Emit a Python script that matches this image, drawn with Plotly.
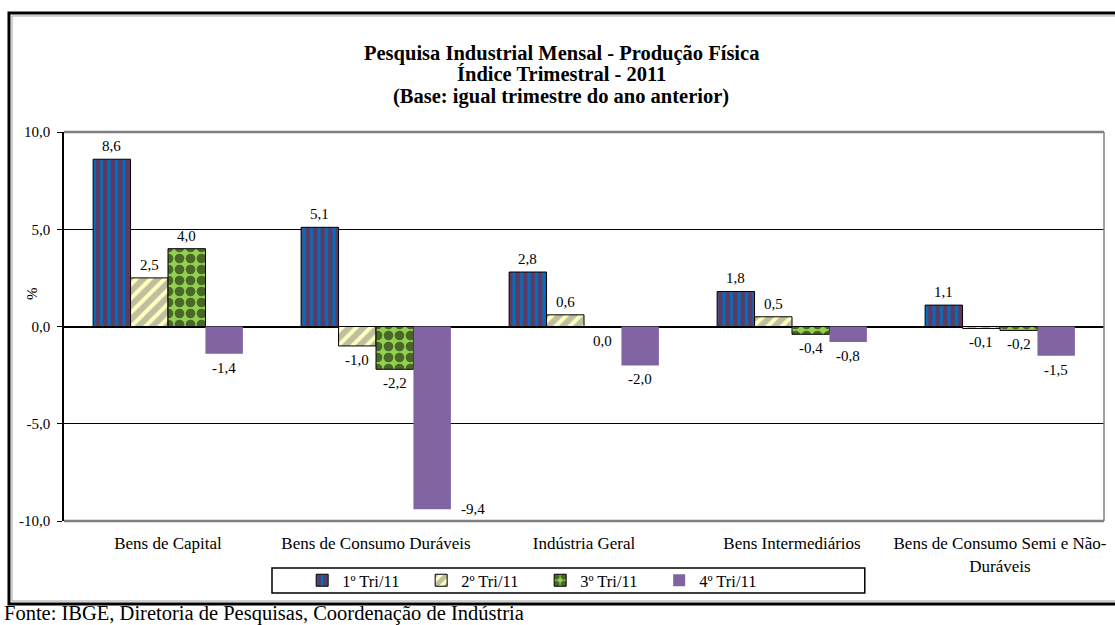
import plotly.graph_objects as go

categories = ["Bens de Capital", "Bens de Consumo Duráveis", "Indústria Geral",
              "Bens Intermediários", "Bens de Consumo Semi e Não-<br>Duráveis"]
series_names = ["1º Tri/11", "2º Tri/11", "3º Tri/11", "4º Tri/11"]
tri1 = [8.6, 5.1, 2.8, 1.8, 1.1]
tri2 = [2.5, -1.0, 0.6, 0.5, -0.1]
tri3 = [4.0, -2.2, 0.0, -0.4, -0.2]
tri4 = [-1.4, -9.4, -2.0, -0.8, -1.5]
y_ticks = [-10, -5, 0, 5, 10]
y_tick_labels = ["-10,0", "-5,0", "0,0", "5,0", "10,0"]
title_lines = ["Pesquisa Industrial Mensal - Produção Física",
               "Índice Trimestral - 2011",
               "(Base: igual trimestre do ano anterior)"]
source_text = "Fonte: IBGE, Diretoria de Pesquisas, Coordenação de Indústria"

FONT = "Liberation Serif"
series = [tri1, tri2, tri3, tri4]
styles = [
    dict(color="#0070C0", pattern=dict(shape="|", fgcolor="#C00000", bgcolor="#0070C0", size=7.5, solidity=0.6), line=dict(color="black", width=1)),
    dict(color="#FFFFC0", pattern=dict(shape="/", fgcolor="#808080", bgcolor="#FFFFC0", size=10, solidity=0.6), line=dict(color="black", width=1)),
    dict(color="#92D050", pattern=dict(shape=".", fgcolor="black", bgcolor="#92D050", size=11, solidity=0.6), line=dict(color="black", width=1)),
    dict(color="#8064A2", line=dict(width=0)),
]

xidx = list(range(len(categories)))
bargap = 0.28
fig = go.Figure()
for name, vals, st in zip(series_names, series, styles):
    fig.add_trace(go.Bar(x=xidx, y=vals, name=name, marker=st))

ymin, ymax = -10, 10
w = (1 - bargap) / len(series)
ann = []
for i, vals in enumerate(series):
    for j, v in enumerate(vals):
        xc = j + (i - (len(series) - 1) / 2) * w
        txt = f"{v:.1f}".replace(".", ",")
        if v > 0:
            ann.append(dict(x=xc, y=v, text=txt, showarrow=False, yanchor="bottom", yshift=3))
        elif v < ymin + 1:
            ann.append(dict(x=xc + w / 2, y=v, text=txt, showarrow=False, xanchor="left", xshift=8, yanchor="middle"))
        else:
            ann.append(dict(x=xc, y=v, text=txt, showarrow=False, yanchor="top", yshift=-4))
for a in ann:
    a["font"] = dict(family=FONT, size=15, color="black")

for k, (line, yy) in enumerate(zip(title_lines, [1.203, 1.149, 1.090])):
    ann.append(dict(xref="paper", yref="paper", x=0.478, y=yy, xanchor="center", yanchor="middle",
                    text=f"<b>{line}</b>", showarrow=False,
                    font=dict(family=FONT, size=20.5, color="black")))

ann.append(dict(xref="paper", yref="paper", x=-0.0596, y=-0.239, xanchor="left", yanchor="middle",
                text=source_text, showarrow=False,
                font=dict(family=FONT, size=20.5, color="black")))
ann.append(dict(xref="paper", yref="paper", x=-0.0308, y=0.586, xanchor="center", yanchor="middle",
                text="%", textangle=-90, showarrow=False, font=dict(family=FONT, size=15, color="black")))

boundaries = [k + 0.5 for k in xidx]

fig.update_layout(
    width=1115, height=625,
    margin=dict(l=64, r=11, t=132, b=104, autoexpand=False),
    paper_bgcolor="white", plot_bgcolor="white",
    barmode="group", bargap=bargap, bargroupgap=0,
    font=dict(family=FONT, size=15, color="black"),
    xaxis=dict(tickvals=xidx, ticktext=categories, range=[-0.5, len(categories) - 0.5],
               showgrid=False, zeroline=False, showline=False, automargin=False,
               ticks="outside", ticklen=7, tickcolor="rgba(0,0,0,0)",
               tickfont=dict(family=FONT, size=17)),
    xaxis2=dict(overlaying="x", anchor="free", position=0.5, side="bottom",
                range=[-0.5, len(categories) - 0.5], tickvals=boundaries,
                showticklabels=False, ticks="outside", ticklen=4, tickcolor="black", tickwidth=1,
                showgrid=False, zeroline=False, showline=False, automargin=False),
    yaxis=dict(range=[ymin, ymax], tickvals=y_ticks, ticktext=y_tick_labels, automargin=False,
               showgrid=True, gridcolor="black", gridwidth=1.3,
               zeroline=True, zerolinecolor="black", zerolinewidth=1.5,
               showline=True, linecolor="black", linewidth=1.5,
               ticks="outside", ticklen=5, tickcolor="black",
               ticklabelstandoff=4,
               tickfont=dict(family=FONT, size=15)),
    legend=dict(orientation="h", x=0.229, xanchor="left", y=-0.153, yanchor="middle",
                borderwidth=0, entrywidth=74, itemwidth=30,
                font=dict(family=FONT, size=16.5), traceorder="normal", bgcolor="rgba(0,0,0,0)"),
    annotations=ann,
    shapes=[
        dict(type="rect", xref="paper", yref="paper", x0=-0.0529, x1=1.02, y0=-0.2134, y1=1.306,
             line=dict(color="black", width=3), fillcolor="rgba(0,0,0,0)", layer="below"),
        dict(type="rect", xref="paper", yref="paper", x0=-0.0500, x1=1.02, y0=-0.2057, y1=1.2983,
             line=dict(color="#A0A0A0", width=1), fillcolor="rgba(0,0,0,0)", layer="below"),
        dict(type="rect", xref="paper", yref="paper", x0=0.2, x1=0.770, y0=-0.185, y1=-0.1208,
             line=dict(color="black", width=1.5), fillcolor="rgba(0,0,0,0)"),
        dict(type="line", xref="paper", yref="paper", x0=0, x1=1, y0=1, y1=1, line=dict(color="#808080", width=2.5)),
        dict(type="line", xref="paper", yref="paper", x0=0, x1=1, y0=0, y1=0, line=dict(color="#808080", width=2.5)),
        dict(type="line", xref="paper", yref="paper", x0=1, x1=1, y0=0, y1=1, line=dict(color="#808080", width=1.5)),
    ],
)
fig.write_html("out.html", config={"displayModeBar": False},
               post_script="document.body.style.margin='0';")
